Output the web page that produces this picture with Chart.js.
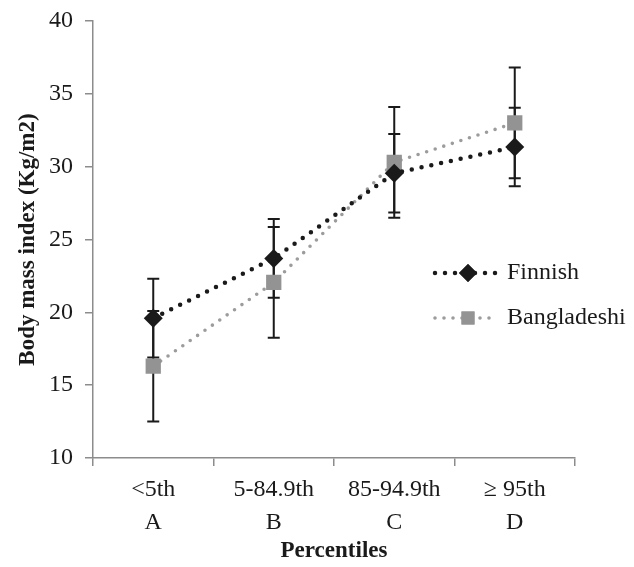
<!DOCTYPE html>
<html>
<head>
<meta charset="utf-8">
<script src="https://cdn.jsdelivr.net/npm/chart.js@4.4.1/dist/chart.umd.min.js"></script>
<style>
  html, body { margin: 0; padding: 0; background: #fff; }
  #wrap { width: 634px; height: 567px; }
</style>
</head>
<body>
<div id="wrap"><canvas id="bmiChart" width="634" height="567"></canvas></div>
<script>
// 데이터
const categories = [['<5th', 'A'], ['5-84.9th', 'B'], ['85-94.9th', 'C'], ['\u2265 95th', 'D']];
const seriesNames = ['Finnish', 'Bangladeshi'];
const finnishMean = [19.6, 23.7, 29.55, 31.35];
const finnishErr = [2.7, 2.7, 2.7, 2.7];
const bangladeshiMean = [16.3, 22.05, 30.3, 33.0];
const bangladeshiErr = [3.8, 3.8, 3.8, 3.8];
const yTicks = [10, 15, 20, 25, 30, 35, 40];

const serif = "'Liberation Serif', 'Times New Roman', serif";
const axisGray = '#8c8c8c';
const ink = '#1a1a1a';

// 오차 막대 (마커 아래에 그림)
const errorBars = {
    id: 'errorBars',
    beforeDatasetsDraw(chart) {
        const ctx = chart.ctx;
        const x = chart.scales.x;
        const y = chart.scales.y;
        ctx.save();
        ctx.strokeStyle = ink;
        ctx.lineWidth = 2;
        chart.data.datasets.forEach(ds => {
            ds.data.forEach((v, i) => {
                const px = x.getPixelForValue(i);
                const top = y.getPixelForValue(v + ds.err[i]);
                const bot = y.getPixelForValue(v - ds.err[i]);
                ctx.beginPath();
                ctx.moveTo(px, top); ctx.lineTo(px, bot);
                ctx.moveTo(px - 6, top); ctx.lineTo(px + 6, top);
                ctx.moveTo(px - 6, bot); ctx.lineTo(px + 6, bot);
                ctx.stroke();
            });
        });
        ctx.restore();
    }
};

// 범례 (차트 영역 오른쪽 안쪽)
const sideLegend = {
    id: 'sideLegend',
    afterDraw(chart) {
        const ctx = chart.ctx;
        const legendRadius = [9, 9.2];
        ctx.save();
        chart.data.datasets.forEach((ds, k) => {
            const yy = 273 + k * 45;
            ctx.strokeStyle = ds.borderColor;
            ctx.lineWidth = ds.borderWidth;
            ctx.lineCap = 'round';
            ctx.setLineDash(ds.borderDash);
            ctx.beginPath();
            ctx.moveTo(435, yy); ctx.lineTo(497, yy);
            ctx.stroke();
            ctx.setLineDash([]);
            ctx.fillStyle = ds.pointBackgroundColor;
            Chart.helpers.drawPoint(ctx, {
                pointStyle: ds.pointStyle,
                radius: legendRadius[k],
                borderWidth: 0
            }, 468, yy);
            ctx.fill();
            ctx.fillStyle = ink;
            ctx.font = '24px ' + serif;
            ctx.textBaseline = 'middle';
            ctx.fillText(ds.label, 507, yy);
        });
        ctx.restore();
    }
};

document.addEventListener('DOMContentLoaded', () => {
    const ctx = document.getElementById('bmiChart').getContext('2d');
    new Chart(ctx, {
        type: 'line',
        data: {
            labels: categories,
            datasets: [{
                label: seriesNames[0],
                data: finnishMean,
                err: finnishErr,
                borderColor: ink,
                borderWidth: 4.5,
                borderDash: [0, 10],
                borderCapStyle: 'round',
                pointStyle: 'rectRot',
                pointRadius: 9.5,
                pointBackgroundColor: ink,
                pointBorderWidth: 0,
                tension: 0
            }, {
                label: seriesNames[1],
                data: bangladeshiMean,
                err: bangladeshiErr,
                borderColor: '#9c9c9c',
                borderWidth: 3.6,
                borderDash: [0, 9],
                borderCapStyle: 'round',
                pointStyle: 'rect',
                pointRadius: 10.8,
                pointBackgroundColor: '#939393',
                pointBorderWidth: 0,
                tension: 0
            }]
        },
        options: {
            responsive: false,
            animation: false,
            layout: { padding: { top: 16, right: 59, bottom: 0, left: 0 } },
            plugins: {
                legend: { display: false },
                tooltip: { enabled: false }
            },
            scales: {
                x: {
                    type: 'category',
                    offset: true,
                    afterFit: axis => { axis.height = 109; },
                    grid: {
                        offset: true,
                        drawOnChartArea: false,
                        drawTicks: true,
                        tickLength: 8,
                        color: axisGray,
                        lineWidth: 1.5
                    },
                    border: { color: axisGray, width: 1.5 },
                    ticks: {
                        color: ink,
                        font: { family: serif, size: 24, lineHeight: 1.375 },
                        padding: 7,
                        maxRotation: 0
                    },
                    title: {
                        display: true,
                        text: 'Percentiles',
                        color: ink,
                        font: { family: serif, size: 23, weight: 'bold' },
                        padding: { top: 0, bottom: 2 }
                    }
                },
                y: {
                    min: yTicks[0],
                    max: yTicks[yTicks.length - 1],
                    afterFit: axis => { axis.width = 93; },
                    afterBuildTicks: axis => {
                        axis.ticks = yTicks.map(v => ({ value: v }));
                    },
                    grid: {
                        drawOnChartArea: false,
                        drawTicks: true,
                        tickLength: 8,
                        color: axisGray,
                        lineWidth: 1.5
                    },
                    border: { color: axisGray, width: 1.5 },
                    ticks: {
                        color: ink,
                        font: { family: serif, size: 24, lineHeight: 0.75 },
                        padding: 12
                    },
                    title: {
                        display: true,
                        text: 'Body mass index (Kg/m2)',
                        color: ink,
                        font: { family: serif, size: 23, weight: 'bold' },
                        padding: { top: 14, bottom: 0 }
                    }
                }
            }
        },
        plugins: [errorBars, sideLegend]
    });
});
</script>
</body>
</html>
